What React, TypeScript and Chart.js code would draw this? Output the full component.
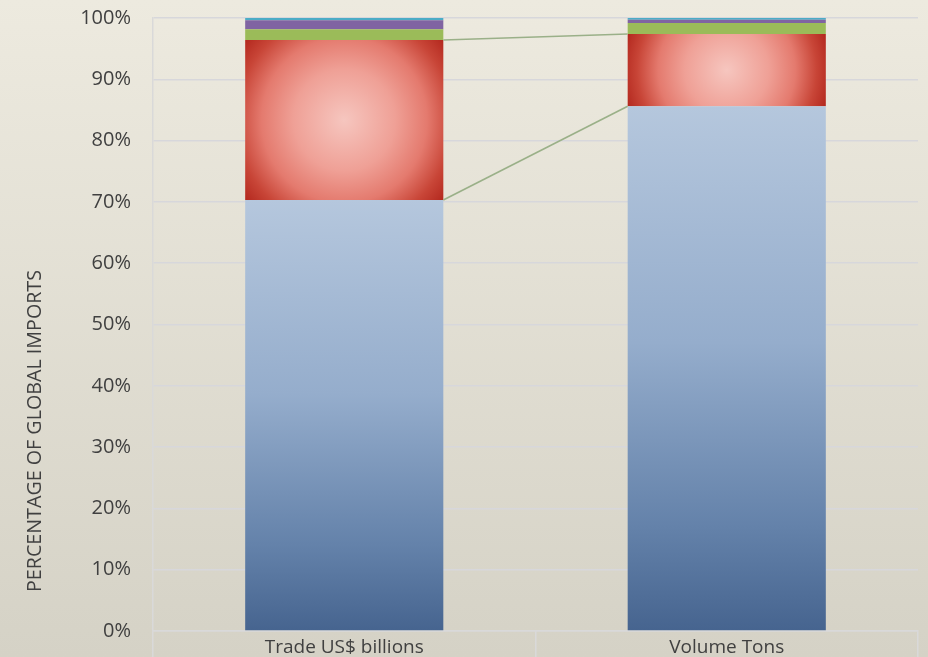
import React, { useEffect, useRef } from 'react';
import { Chart, registerables } from 'chart.js';

Chart.register(...registerables);

const categories = ['Trade US$ billions', 'Volume Tons'];
const seriesNames = ['Series 1', 'Series 2', 'Series 3', 'Series 4', 'Series 5'];
const blueShare = [70.3, 85.6];
const redShare = [26.1, 11.8];
const greenShare = [1.75, 1.8];
const purpleShare = [1.5, 0.5];
const cyanShare = [0.35, 0.3];
const allSeries = [blueShare, redShare, greenShare, purpleShare, cyanShare];
const yAxisTitle = 'PERCENTAGE OF GLOBAL IMPORTS';

const BAR_PCT = 0.518;
const FONT = "'Open Sans', 'DejaVu Sans', sans-serif";

function barBox(chart: any, di: number, idx: number) {
  const xs = chart.scales.x;
  const ys = chart.scales.y;
  const cat = (xs.right - xs.left) / categories.length;
  const w = cat * BAR_PCT;
  const cx = xs.getPixelForValue(idx);
  let bottom = 0;
  for (let k = 0; k < di; k++) bottom += allSeries[k][idx];
  const top = bottom + allSeries[di][idx];
  return {
    left: cx - w / 2,
    right: cx + w / 2,
    top: ys.getPixelForValue(top),
    bottom: ys.getPixelForValue(bottom),
  };
}

function blueFill(ctx: any) {
  const chart = ctx.chart;
  if (!chart.chartArea || !chart.scales.x || ctx.dataIndex === undefined) return '#8DA6C8';
  const b = barBox(chart, 0, ctx.dataIndex);
  const g = chart.ctx.createLinearGradient(0, b.top, 0, b.bottom);
  g.addColorStop(0, '#B5C7DD');
  g.addColorStop(0.45, '#95ADCC');
  g.addColorStop(0.8, '#6482AA');
  g.addColorStop(1, '#46648F');
  return g;
}

function redFill(ctx: any) {
  const chart = ctx.chart;
  if (!chart.chartArea || !chart.scales.x || ctx.dataIndex === undefined) return '#D9594C';
  const b = barBox(chart, 1, ctx.dataIndex);
  const cx = (b.left + b.right) / 2;
  const cy = (b.top + b.bottom) / 2;
  const r = Math.sqrt(Math.pow((b.right - b.left) / 2, 2) + Math.pow((b.bottom - b.top) / 2, 2));
  const g = chart.ctx.createRadialGradient(cx, cy, 0, cx, cy, r);
  g.addColorStop(0, '#F6C6BF');
  g.addColorStop(0.4, '#EFA096');
  g.addColorStop(0.65, '#E47A6E');
  g.addColorStop(0.85, '#C84537');
  g.addColorStop(1, '#B3281E');
  return g;
}

const backgroundPlugin = {
  id: 'bgGradient',
  beforeDraw(chart: any) {
    const { ctx, width, height } = chart;
    ctx.save();
    const g = ctx.createLinearGradient(0, 0, 0, height);
    g.addColorStop(0, '#EDEADF');
    g.addColorStop(1, '#D5D2C6');
    ctx.fillStyle = g;
    ctx.fillRect(0, 0, width, height);
    ctx.restore();
  },
};

const seriesLinePlugin = {
  id: 'seriesLines',
  afterDatasetsDraw(chart: any) {
    const ctx = chart.ctx;
    ctx.save();
    ctx.strokeStyle = '#9AB088';
    ctx.lineWidth = 1.6;
    for (const di of [0, 1]) {
      const a = barBox(chart, di, 0);
      const b = barBox(chart, di, 1);
      ctx.beginPath();
      ctx.moveTo(a.right, a.top);
      ctx.lineTo(b.left, b.top);
      ctx.stroke();
    }
    ctx.restore();
  },
};

const axisTitlePlugin = {
  id: 'axisTitle',
  afterDraw(chart: any) {
    const ctx = chart.ctx;
    ctx.save();
    ctx.translate(35, 431);
    ctx.rotate(-Math.PI / 2);
    ctx.fillStyle = '#404040';
    ctx.font = `19.7px ${FONT}`;
    ctx.textAlign = 'center';
    ctx.textBaseline = 'middle';
    ctx.fillText(yAxisTitle, 0, 0);
    ctx.restore();
  },
};

export default function App() {
  const ref = useRef<HTMLCanvasElement>(null);

  useEffect(() => {
    document.body.style.margin = '0';
    const colors = [blueFill, redFill, '#9BBB59', '#8064A2', '#4BACC6'];
    const chart = new Chart(ref.current as HTMLCanvasElement, {
      type: 'bar',
      data: {
        labels: categories,
        datasets: allSeries.map((d, i) => ({
          label: seriesNames[i],
          data: d,
          backgroundColor: colors[i] as any,
          borderWidth: 0,
          barPercentage: BAR_PCT,
          categoryPercentage: 1,
        })),
      },
      options: {
        responsive: false,
        animation: false,
        layout: { padding: { top: 18, right: 10, left: 0, bottom: 0 } },
        plugins: {
          legend: { display: false },
          tooltip: { enabled: false },
          title: { display: false },
        },
        scales: {
          x: {
            stacked: true,
            grid: {
              display: true,
              drawOnChartArea: false,
              drawTicks: true,
              tickLength: 26,
              color: '#D9D9D9',
              lineWidth: 1.5,
              offset: true,
            },
            border: { display: true, color: '#D9D9D9', width: 1.5 },
            ticks: {
              color: '#404040',
              font: { family: FONT, size: 19 },
              padding: -21,
            },
            afterFit(scale: any) {
              scale.height = 26;
            },
          },
          y: {
            stacked: true,
            min: 0,
            max: 100,
            grid: {
              color: '#D7D7DB',
              lineWidth: 1.5,
              drawTicks: true,
              tickLength: 22,
              tickColor: 'rgba(0,0,0,0)',
            },
            border: { display: true, color: '#D9D9D9', width: 1.5 },
            ticks: {
              stepSize: 10,
              color: '#404040',
              font: { family: FONT, size: 20 },
              padding: 0,
              callback: (v: any) => v + '%',
            },
            afterFit(scale: any) {
              scale.width = 153;
            },
          },
        },
      },
      plugins: [backgroundPlugin, seriesLinePlugin, axisTitlePlugin],
    });
    chart.update();
    return () => chart.destroy();
  }, []);

  return (
    <div style={{ width: 928, height: 657 }}>
      <canvas ref={ref} width={928} height={657} style={{ display: 'block' }} />
    </div>
  );
}
